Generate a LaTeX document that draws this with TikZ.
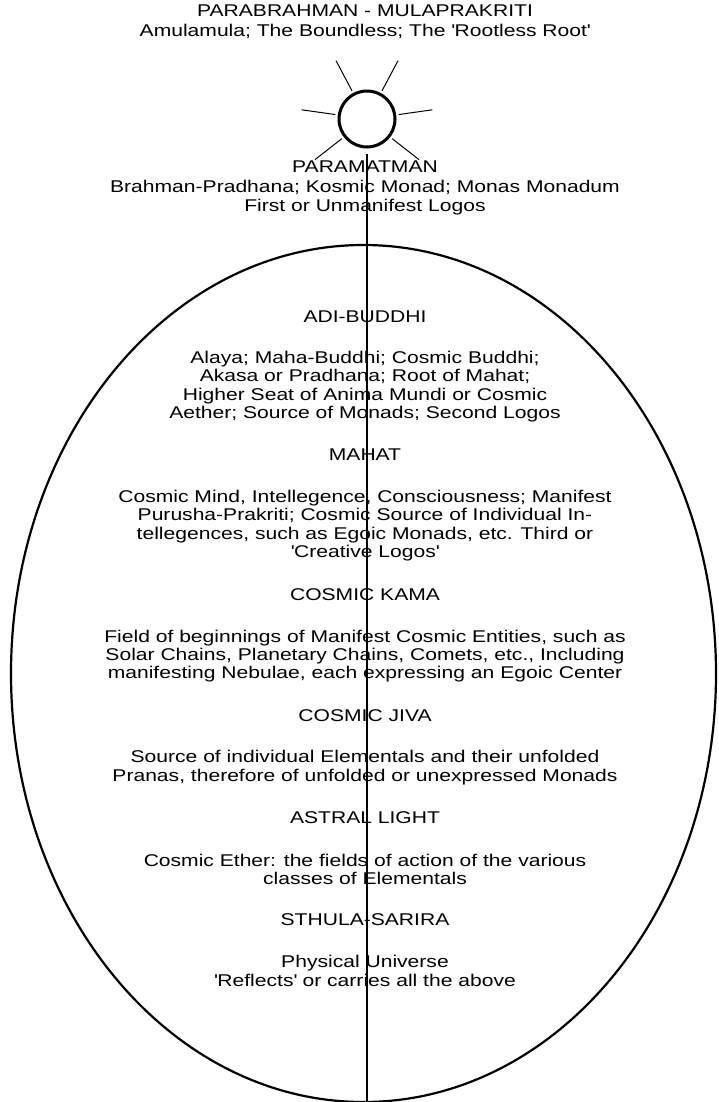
\documentclass[tikz,border=0pt]{standalone}
\usepackage{fontspec}
\usetikzlibrary{shapes.geometric}
\newfontfamily\diafont{Liberation Sans}[FakeStretch=1.24]

\begin{document}
\begin{tikzpicture}[
    x=1pt, y=-1pt,
    txt/.style={font=\diafont\fontsize{17pt}{18.4pt}\selectfont, align=center, inner sep=0pt},
    wide/.style={txt, font=\diafont\fontsize{17pt}{19.6pt}\selectfont},
    sunring/.style={draw, circle, line width=3pt, minimum size=56pt, inner sep=0pt},
    egg/.style={draw, ellipse, line width=2.2pt, minimum width=705pt, minimum height=857pt, inner sep=0pt},
    ray/.style={line width=1pt},
    axis/.style={line width=1.6pt}
  ]
    \useasboundingbox (0,0) rectangle (719,1102);
    % the sun and the cosmic egg
    \node[sunring] (sun) at (367,119) {};
    \foreach \a in {8,62,118,172,218,322}
      \draw[ray] ([shift={(\a:32pt)}]sun.center) -- ([shift={(\a:66pt)}]sun.center);
    \node[egg] (cosmos) at (363.5,673.5) {};
    % planes
    \node[wide] (parabrahman) at (365,22) {PARABRAHMAN - MULAPRAKRITI\\Amulamula; The Boundless; The \textquotesingle Rootless Root\textquotesingle};
    \node[wide] (paramatman) at (365,188) {PARAMATMAN\\Brahman-Pradhana; Kosmic Monad; Monas Monadum\\First or Unmanifest Logos};
    \node[txt] (adibuddhi) at (365,317) {ADI-BUDDHI};
    \node[txt] (adibody) at (365,386.5) {Alaya; Maha-Buddhi; Cosmic Buddhi;\\Akasa or Pradhana; Root of Mahat;\\Higher Seat of Anima Mundi or Cosmic\\Aether; Source of Monads; Second Logos};
    \node[txt] (mahat) at (365,455) {MAHAT};
    \node[txt] (mahatbody) at (365,525.5) {Cosmic Mind, Intellegence, Consciousness; Manifest\\Purusha-Prakriti; Cosmic Source of Individual In-\\tellegences, such as Egoic Monads, etc. Third or\\\textquotesingle Creative Logos\textquotesingle};
    \node[txt] (kama) at (365,595) {COSMIC KAMA};
    \node[txt] (kamabody) at (365,656) {Field of beginnings of Manifest Cosmic Entities, such as\\Solar Chains, Planetary Chains, Comets, etc., Including\\manifesting Nebulae, each expressing an Egoic Center};
    \node[txt] (jiva) at (365,716) {COSMIC JIVA};
    \node[txt] (jivabody) at (365,767.5) {Source of individual Elementals and their unfolded\\Pranas, therefore of unfolded or unexpressed Monads};
    \node[txt] (astral) at (365,818) {ASTRAL LIGHT};
    \node[txt] (astralbody) at (365,869.5) {Cosmic Ether: the fields of action of the various\\classes of Elementals};
    \node[txt] (sthula) at (365,920) {STHULA-SARIRA};
    \node[txt] (sthulabody) at (365,971) {Physical Universe\\\textquotesingle Reflects\textquotesingle{} or carries all the above};
    % the axis
    \draw[axis] ([yshift=-6pt]sun.south) -- (sun.south |- cosmos.south);
\end{tikzpicture}
\end{document}
